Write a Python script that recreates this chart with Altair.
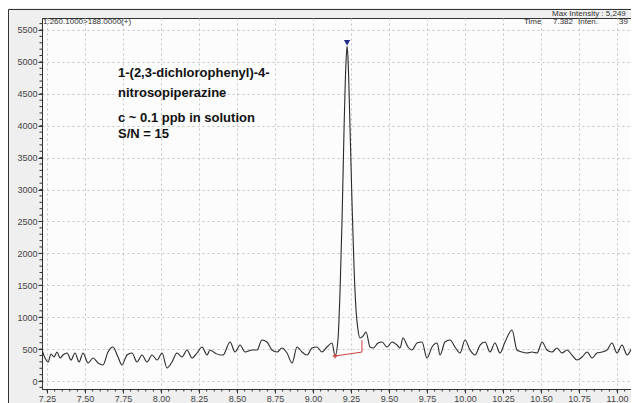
import altair as alt
import pandas as pd

# ---- data ----
times = [7.217, 7.237, 7.257, 7.276, 7.296, 7.316, 7.336, 7.355, 7.382, 7.408,
         7.434, 7.461, 7.487, 7.520, 7.553, 7.586, 7.618, 7.651, 7.684, 7.717,
         7.743, 7.776, 7.809, 7.842, 7.875, 7.908, 7.941, 7.974, 8.007, 8.039,
         8.072, 8.105, 8.138, 8.171, 8.204, 8.237, 8.270, 8.303, 8.322, 8.355,
         8.388, 8.408, 8.454, 8.487, 8.520, 8.553, 8.599, 8.632, 8.664, 8.697,
         8.730, 8.763, 8.796, 8.829, 8.862, 8.895, 8.928, 8.961, 8.993, 9.026,
         9.059, 9.092, 9.125, 9.145, 9.164, 9.178, 9.191, 9.204, 9.217, 9.224,
         9.230, 9.243, 9.257, 9.270, 9.283, 9.296, 9.309, 9.329, 9.349, 9.375,
         9.395, 9.428, 9.454, 9.487, 9.520, 9.553, 9.572, 9.592, 9.625, 9.651,
         9.684, 9.717, 9.750, 9.783, 9.816, 9.836, 9.868, 9.901, 9.934, 9.967,
         10.000, 10.033, 10.066, 10.099, 10.132, 10.164, 10.197, 10.230, 10.263, 10.309,
         10.342, 10.375, 10.408, 10.441, 10.474, 10.507, 10.539, 10.572, 10.605, 10.638,
         10.671, 10.704, 10.737, 10.770, 10.803, 10.836, 10.868, 10.901, 10.934, 10.967,
         11.000, 11.033, 11.066, 11.099]
intensity = [486, 360, 298, 423, 376, 454, 360, 407, 439, 329,
             439, 298, 439, 282, 360, 282, 251, 454, 533, 376,
             251, 407, 439, 298, 407, 298, 407, 329, 439, 204,
             298, 439, 376, 486, 360, 439, 533, 407, 486, 439,
             407, 407, 611, 454, 564, 454, 486, 486, 642, 611,
             486, 454, 517, 439, 282, 533, 454, 407, 517, 533,
             454, 533, 595, 392, 642, 1426, 2523, 3933, 4999, 5249,
             5061, 4012, 2758, 1771, 1113, 799, 674, 705, 768, 533,
             517, 595, 611, 533, 611, 564, 517, 674, 533, 486,
             595, 611, 360, 533, 595, 407, 611, 642, 533, 439,
             642, 486, 407, 564, 611, 454, 595, 439, 611, 799,
             486, 454, 439, 454, 439, 611, 486, 454, 517, 439,
             486, 407, 329, 376, 454, 360, 439, 454, 486, 595,
             439, 564, 407, 533]

# integration baseline (red) and peak apex marker
base_t = [9.145, 9.322]
base_v = [392, 454]
base_mark_t = [9.322, 9.322]
base_mark_v = [454, 640]
apex_t = [9.224]
apex_v = [5300]

x_ticks = [7.25 + 0.25 * i for i in range(16)]
y_ticks = list(range(0, 5501, 500))
x_minor = [round(7.25 + 0.05 * i, 2) for i in range(78)]
y_minor = list(range(-100, 5601, 100))

title_lines = ["1-(2,3-dichlorophenyl)-4-", "nitrosopiperazine",
               "c ~ 0.1 ppb in solution", "S/N = 15"]
header_left = "1:260.1000>188.0000(+)"
header_right = ["Time", "7.382", "Inten.", "39"]
max_int = "Max Intensity : 5,249"

X_DOM = [7.217, 11.092]
Y_DOM = [-125, 5688]
W, H = 589, 371

xs = alt.Scale(domain=X_DOM, nice=False, zero=False)
ys = alt.Scale(domain=Y_DOM, nice=False, zero=False)

trace_df = pd.DataFrame({"t": times, "v": intensity})

x_axis = alt.Axis(values=x_ticks, format=".2f", title=None, grid=True,
                  gridDash=[2, 3], gridColor="#c4c4c4", tickSize=4,
                  tickColor="#333", domainColor="#333", labelFontSize=9,
                  labelColor="#444", labelPadding=1, labelFont="Liberation Sans")
y_axis = alt.Axis(values=y_ticks, format="d", title=None, grid=True,
                  gridDash=[2, 3], gridColor="#c4c4c4", tickSize=4,
                  tickColor="#333", domainColor="#333", labelFontSize=9,
                  labelColor="#444", labelPadding=1, labelFont="Liberation Sans")

X = lambda: alt.X("t:Q", scale=xs, axis=x_axis)
Y = lambda: alt.Y("v:Q", scale=ys, axis=y_axis)

trace = alt.Chart(trace_df).mark_line(
    color="#2a2a2a", strokeWidth=1.1, interpolate="monotone", clip=True
).encode(x=X(), y=Y())

yminor = alt.Chart(pd.DataFrame({"v": y_minor})).mark_rule(
    color="#333", strokeWidth=1
).encode(y=Y(), x=alt.value(-2.5), x2=alt.value(0))
xminor = alt.Chart(pd.DataFrame({"t": x_minor})).mark_rule(
    color="#333", strokeWidth=1
).encode(x=X(), y=alt.value(H), y2=alt.value(H + 2.5))

base = alt.Chart(pd.DataFrame({"t": base_t, "v": base_v})).mark_line(
    color="#d04040", strokeWidth=1
).encode(x=X(), y=Y())
base_tick = alt.Chart(pd.DataFrame({"t": base_mark_t, "v": base_mark_v})).mark_line(
    color="#d04040", strokeWidth=1
).encode(x=X(), y=Y())
star = alt.Chart(pd.DataFrame({"t": base_t[:1], "v": base_v[:1]})).mark_point(
    shape="cross", filled=True, color="#d04040", size=22
).encode(x=X(), y=Y())
apex = alt.Chart(pd.DataFrame({"t": apex_t, "v": apex_v})).mark_point(
    shape="triangle-down", filled=True, color="#1f2a8a", size=40, opacity=1
).encode(x=X(), y=Y())


def txt(s, x, y, size, bold=False, align="left", color="#111"):
    return alt.Chart(pd.DataFrame({"s": [s]})).mark_text(
        align=align, baseline="middle", fontSize=size,
        fontWeight="bold" if bold else "normal", font="Liberation Sans",
        color=color
    ).encode(text="s:N", x=alt.value(x), y=alt.value(y))


labels = [
    txt(title_lines[0], 76, 55, 13, True),
    txt(title_lines[1], 76, 75, 13, True),
    txt(title_lines[2], 76, 100, 13, True),
    txt(title_lines[3], 76, 116, 13, True),
    txt(header_left, 1, 4, 8, color="#333"),
    txt(header_right[0], 482, 4, 8, color="#333"),
    txt(header_right[1], 511, 4, 8, color="#333"),
    txt(header_right[2], 536, 4, 8, color="#333"),
    txt(header_right[3], 586, 4, 8, align="right", color="#333"),
    txt(max_int, 510, -4, 8, color="#333"),
]

frame_top = alt.Chart(pd.DataFrame({"a": [0]})).mark_rule(color="#333", strokeWidth=1).encode(
    x=alt.value(-33.5), x2=alt.value(W + 5), y=alt.value(-8.5))
frame_left = alt.Chart(pd.DataFrame({"a": [0]})).mark_rule(color="#333", strokeWidth=1).encode(
    x=alt.value(-33.5), y=alt.value(-8.5), y2=alt.value(H + 30))

chart = alt.layer(
    trace, yminor, xminor, base, base_tick, star, apex, frame_top, frame_left, *labels
).properties(
    width=W, height=H,
    padding={"left": 34, "top": 10, "right": 0, "bottom": 14},
    autosize=alt.AutoSizeParams(type="none"),
    background="#efefef",
).configure_view(
    stroke="#333", strokeWidth=1, fill="#fcfcfc"
)

chart.save("out.html", embed_options={"renderer": "svg", "actions": False})
